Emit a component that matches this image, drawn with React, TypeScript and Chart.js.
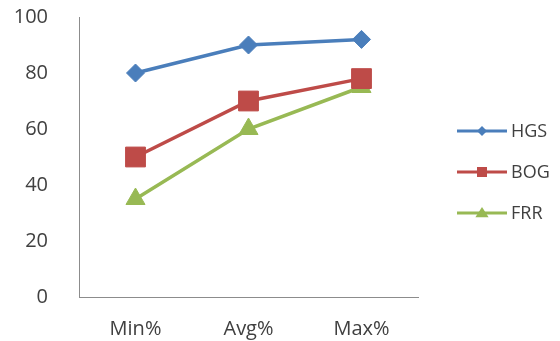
import React, { useEffect, useRef } from "react";
import { Chart, registerables } from "chart.js";

Chart.register(...registerables);

const categories = ["Min%", "Avg%", "Max%"];
const seriesNames = ["HGS", "BOG", "FRR"];
const hgsValues = [80, 90, 92];
const bogValues = [50, 70, 78];
const frrValues = [35, 60, 75];
const yTicks = [0, 20, 40, 60, 80, 100];

const colors = ["#4A7EBB", "#BE4B48", "#98B954"];
const pointStyles = ["rectRot", "rect", "triangle"];
const pointRadii = [9, 14, 11];
const FONT = "'Open Sans', sans-serif";
const TEXT = "#404040";

function drawMarker(ctx: CanvasRenderingContext2D, style: string, r: number, x: number, y: number) {
  ctx.beginPath();
  if (style === "rectRot") {
    ctx.moveTo(x, y - r);
    ctx.lineTo(x + r, y);
    ctx.lineTo(x, y + r);
    ctx.lineTo(x - r, y);
  } else if (style === "rect") {
    ctx.rect(x - r, y - r, 2 * r, 2 * r);
  } else {
    ctx.moveTo(x, y - r);
    ctx.lineTo(x + r * 1.1, y + r * 0.7);
    ctx.lineTo(x - r * 1.1, y + r * 0.7);
  }
  ctx.closePath();
  ctx.fill();
}

const sideLegend = {
  id: "sideLegend",
  afterDraw(chart: any) {
    const { ctx } = chart;
    const x0 = 457;
    const lineLen = 50;
    const midY = 172;
    const gap = 41;
    chart.data.datasets.forEach((ds: any, i: number) => {
      const y = midY + (i - 1) * gap;
      ctx.save();
      ctx.strokeStyle = ds.borderColor;
      ctx.lineWidth = 3;
      ctx.beginPath();
      ctx.moveTo(x0, y);
      ctx.lineTo(x0 + lineLen, y);
      ctx.stroke();
      ctx.fillStyle = ds.borderColor;
      drawMarker(ctx, ds.pointStyle, [5, 5, 6][i], x0 + lineLen / 2, y);
      ctx.fillStyle = TEXT;
      ctx.font = `18px ${FONT}`;
      ctx.textAlign = "left";
      ctx.textBaseline = "middle";
      ctx.fillText(ds.label, x0 + lineLen + 4, y + 1);
      ctx.restore();
    });
  },
};

export default function App() {
  const ref = useRef<HTMLCanvasElement>(null);
  useEffect(() => {
    if (!ref.current) return;
    const values = [hgsValues, bogValues, frrValues];
    const chart = new Chart(ref.current, {
      type: "line",
      data: {
        labels: categories,
        datasets: seriesNames.map((name, i) => ({
          label: name,
          data: values[i],
          borderColor: colors[i],
          backgroundColor: colors[i],
          borderWidth: 3.5,
          pointStyle: pointStyles[i] as any,
          pointRadius: pointRadii[i],
          pointBorderWidth: 1,
          pointBorderColor: colors[i],
          pointBackgroundColor: colors[i],
          tension: 0,
          clip: false as any,
        })),
      },
      options: {
        animation: false,
        responsive: false,
        maintainAspectRatio: false,
        layout: { autoPadding: false, padding: { top: 17, right: 142, bottom: 0, left: 0 } },
        plugins: { legend: { display: false }, tooltip: { enabled: false } },
        scales: {
          x: {
            offset: true,
            grid: { display: false },
            border: { display: true, color: "#8C8C8C", width: 1 },
            ticks: { color: TEXT, font: { family: FONT, size: 20 }, padding: 12 },
            afterFit: (s: any) => { s.height = 44; s.paddingLeft = 0; s.paddingRight = 0; },
          },
          y: {
            min: 0,
            max: 100,
            afterBuildTicks: (s: any) => { s.ticks = yTicks.map((v) => ({ value: v })); },
            grid: { display: false },
            border: { display: true, color: "#8C8C8C", width: 1 },
            ticks: { color: TEXT, font: { family: FONT, size: 20 }, padding: 23 },
            afterFit: (s: any) => { s.width = 79; s.paddingTop = 0; s.paddingBottom = 0; },
          },
        },
      },
      plugins: [sideLegend],
    });
    return () => chart.destroy();
  }, []);
  return (
    <div style={{ position: "absolute", left: 0, top: 0, width: 560, height: 341, background: "#fff" }}>
      <canvas ref={ref} width={560} height={341} />
    </div>
  );
}
